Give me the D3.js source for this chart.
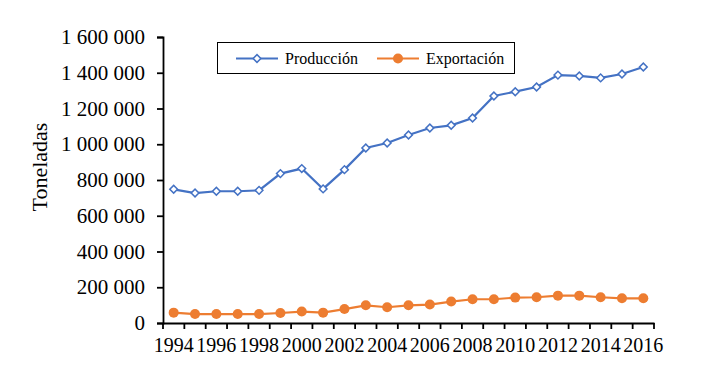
<!DOCTYPE html>
<html>
<head>
<meta charset="utf-8">
<script src="https://cdn.jsdelivr.net/npm/d3@7"></script>
<style>
  body { margin: 0; background: #fff; }
  text { font-family: "Liberation Serif", "Times New Roman", serif; fill: #000; }
</style>
</head>
<body>
<div id="chart"></div>
<script>
// data
var years = d3.range(1994, 2017);
var produccion = [748000, 727000, 737000, 737000, 742000, 836000, 864000, 750000, 858000, 979000,
    1007000, 1052000, 1091000, 1106000, 1147000, 1270000, 1294000, 1320000, 1387000, 1382000,
    1371000, 1393000, 1432000];
var exportacion = [58000, 50000, 50000, 50000, 50000, 56000, 64000, 58000, 78000, 99000,
    88000, 99000, 103000, 120000, 133000, 133000, 142000, 144000, 153000, 153000,
    144000, 138000, 138000];
var yTicks = [0, 200000, 400000, 600000, 800000, 1000000, 1200000, 1400000, 1600000];
var seriesNames = ["Producción", "Exportación"];

var W = 703, H = 382;
var margin = {left: 163, right: 654, top: 37, bottom: 323};

var blue = "#4472C4", orange = "#ED7D31";

var svg = d3.select("#chart").append("svg")
    .attr("width", W)
    .attr("height", H);

var x = d3.scaleBand().domain(years).range([margin.left, margin.right]).padding(0);
var y = d3.scaleLinear().domain([0, 1600000]).range([margin.bottom, margin.top]);

var loc = d3.formatLocale({decimal: ",", thousands: " ", grouping: [3], currency: ["", ""]});
var fmt = loc.format(",");

// y axis
var yAxis = svg.append("g")
    .attr("transform", `translate(${margin.left}, 0)`)
    .call(d3.axisLeft(y).tickValues(yTicks).tickFormat(fmt).tickSize(6).tickPadding(12));
yAxis.attr("font-family", null).attr("font-size", null);
yAxis.select(".domain").attr("stroke", "#000").attr("stroke-width", 1.8);
yAxis.selectAll(".tick line").attr("stroke", "#000").attr("stroke-width", 1.8);
yAxis.selectAll("text").style("font-size", "21px");

// x axis (ticks between categories)
var xAxis = svg.append("g")
    .attr("transform", `translate(0, ${margin.bottom})`)
    .call(d3.axisBottom(x).tickSize(0).tickPadding(15)
        .tickFormat(d => (d - 1994) % 2 === 0 ? d : ""));
xAxis.attr("font-family", null).attr("font-size", null);
xAxis.select(".domain").attr("stroke", "#000").attr("stroke-width", 1.8);
xAxis.selectAll("text").style("font-size", "20px");

var bounds = years.map(d => x(d)).concat([x(2016) + x.bandwidth()]);
xAxis.selectAll("line.cat")
    .data(bounds).enter()
    .append("line")
    .attr("class", "cat")
    .attr("x1", d => d).attr("x2", d => d)
    .attr("y1", 0).attr("y2", 6)
    .attr("stroke", "#000").attr("stroke-width", 1.8);

// y title
svg.append("text")
    .attr("transform", `translate(47, 167) rotate(-90)`)
    .style("text-anchor", "middle")
    .style("font-size", "22px")
    .text("Toneladas");

var cx = d => x(d) + x.bandwidth() / 2;
var line = d3.line().x((d, i) => cx(years[i])).y(d => y(d));

// export line
svg.append("path")
    .datum(exportacion)
    .attr("d", line)
    .attr("fill", "none")
    .attr("stroke", orange)
    .attr("stroke-width", 2.2);
svg.selectAll("circle.exp")
    .data(exportacion).enter()
    .append("circle")
    .attr("class", "exp")
    .attr("cx", (d, i) => cx(years[i]))
    .attr("cy", d => y(d))
    .attr("r", 5)
    .attr("fill", orange);

// production line
svg.append("path")
    .datum(produccion)
    .attr("d", line)
    .attr("fill", "none")
    .attr("stroke", blue)
    .attr("stroke-width", 2.2);
var diamond = d3.symbol().type(d3.symbolSquare).size(30);
svg.selectAll("path.prod")
    .data(produccion).enter()
    .append("path")
    .attr("class", "prod")
    .attr("d", diamond)
    .attr("transform", (d, i) => `translate(${cx(years[i])}, ${y(d)}) rotate(45)`)
    .attr("fill", "#fff")
    .attr("stroke", blue)
    .attr("stroke-width", 1.5);

// legend
var lg = svg.append("g");
lg.append("rect")
    .attr("x", 217.5).attr("y", 42.5)
    .attr("width", 297).attr("height", 31)
    .attr("fill", "#fff").attr("stroke", "#000").attr("stroke-width", 1);

var legendItems = [
    {name: seriesNames[0], x0: 236, color: blue},
    {name: seriesNames[1], x0: 377, color: orange}
];
legendItems.forEach(function(it, i) {
    var ly = 58.5;
    lg.append("line")
        .attr("x1", it.x0).attr("x2", it.x0 + 42)
        .attr("y1", ly).attr("y2", ly)
        .attr("stroke", it.color).attr("stroke-width", 2.2);
    if (i === 0) {
        lg.append("path")
            .attr("d", diamond)
            .attr("transform", `translate(${it.x0 + 21}, ${ly}) rotate(45)`)
            .attr("fill", "#fff").attr("stroke", it.color).attr("stroke-width", 1.5);
    } else {
        lg.append("circle")
            .attr("cx", it.x0 + 21).attr("cy", ly).attr("r", 5)
            .attr("fill", it.color);
    }
    lg.append("text")
        .attr("x", it.x0 + 49)
        .attr("y", ly)
        .attr("dy", "0.35em")
        .style("font-size", "16px")
        .text(it.name);
});
</script>
</body>
</html>
